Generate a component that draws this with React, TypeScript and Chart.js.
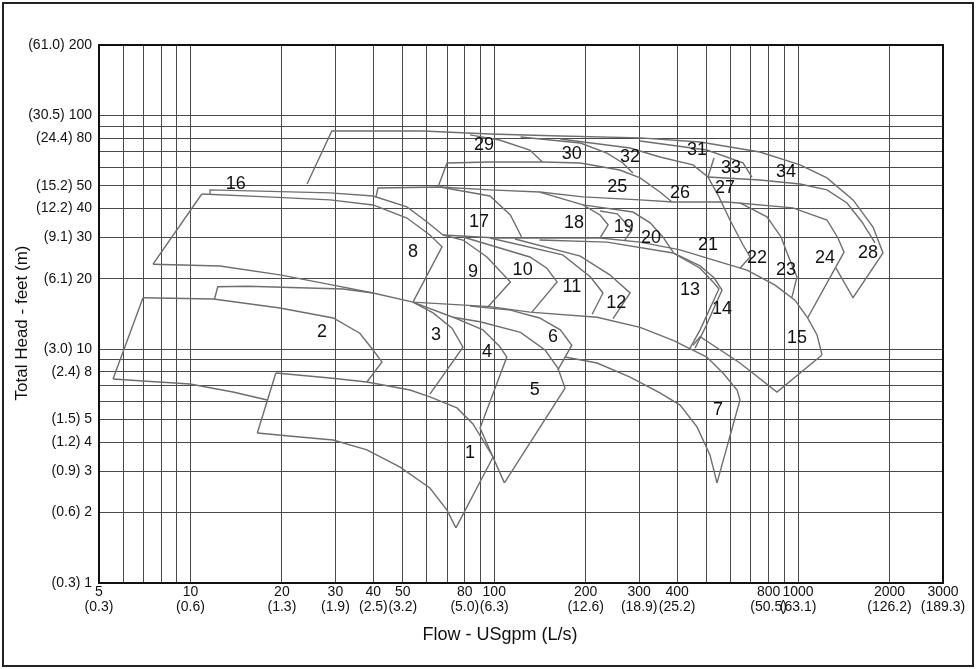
import React, { useEffect, useRef } from 'react';
import { Chart, registerables } from 'chart.js';

Chart.register(...registerables);

type Pt = [number, number];

const FONT = '"Liberation Sans", Arial, Helvetica, sans-serif';

// Axis grid and tick labels
const xGridValues = [5, 6, 7, 8, 9, 10, 20, 30, 40, 50, 60, 70, 80, 90, 100, 200, 300, 400, 500, 600, 700, 800, 900, 1000, 2000, 3000];
const xLabelValues = [5, 10, 20, 30, 40, 50, 80, 100, 200, 300, 400, 800, 1000, 2000, 3000];
const xLabelLs = ['(0.3)', '(0.6)', '(1.3)', '(1.9)', '(2.5)', '(3.2)', '(5.0)', '(6.3)', '(12.6)', '(18.9)', '(25.2)', '(50.5)', '(63.1)', '(126.2)', '(189.3)'];
const yGridValues = [1, 2, 3, 4, 5, 6, 7, 8, 9, 10, 20, 30, 40, 50, 60, 70, 80, 90, 100, 200];
const yLabelValues = [1, 2, 3, 4, 5, 8, 10, 20, 30, 40, 50, 80, 100, 200];
const yLabelM = ['(0.3)', '(0.6)', '(0.9)', '(1.2)', '(1.5)', '(2.4)', '(3.0)', '(6.1)', '(9.1)', '(12.2)', '(15.2)', '(24.4)', '(30.5)', '(61.0)'];

// Pump range boundaries: [flow USgpm, head ft]
const pump2Left: Pt[] = [[6.98, 16.6], [5.56, 7.46]];
const pump2Top: Pt[] = [[6.98, 16.6], [11.9, 16.4], [19.7, 15.0], [29.5, 13.6], [36.1, 11.7], [39.9, 9.92], [42.7, 8.82], [38.1, 7.24]];
const pump2Bottom: Pt[] = [[5.56, 7.46], [6.98, 7.31], [9.97, 7.10], [13.8, 6.56], [17.9, 6.06]];
const pump1Left: Pt[] = [[19.1, 7.91], [16.6, 4.38]];
const pump1Top: Pt[] = [[19.1, 7.91], [28.8, 7.53], [38.1, 7.24], [52.8, 6.69], [61.4, 6.25], [75.4, 5.61], [85.1, 4.79], [99.1, 3.46]];
const pump1Right: Pt[] = [[99.1, 3.46], [74.8, 1.72]];
const pump1Bottom: Pt[] = [[16.6, 4.38], [22.9, 4.21], [29.5, 4.09], [38.1, 3.71], [49.0, 3.13], [61.4, 2.55], [69.9, 2.05], [74.8, 1.72]];
const pump3Edge: Pt[] = [[12.0, 16.4], [12.3, 18.5], [15.4, 18.6], [31.8, 18.1], [39.9, 17.4], [54.0, 15.9], [62.9, 14.3], [72.6, 12.3], [78.9, 10.2], [61.4, 6.43]];
const pump16Left: Pt[] = [[7.53, 23.1], [10.9, 46.1]];
const pump16Bottom: Pt[] = [[7.53, 23.1], [12.5, 22.7], [19.7, 20.8], [29.5, 18.8], [39.9, 17.4]];
const pump4Edge: Pt[] = [[54.0, 15.9], [73.1, 13.7], [91.8, 12.1], [104, 10.3], [110, 9.26], [89.8, 4.6], [108, 2.68]];
const pump5Edge: Pt[] = [[73.1, 13.7], [89.8, 13.1], [122, 11.8], [147, 9.92], [162, 8.31], [171, 6.82], [108, 2.68]];
const pump6Edge: Pt[] = [[83.2, 15.3], [113, 14.7], [141, 13.6], [165, 12.1], [180, 10.4], [162, 8.15]];
const pump7Bottom: Pt[] = [[171, 9.26], [218, 8.73], [280, 7.6], [351, 6.5], [409, 5.77], [465, 4.65], [513, 3.53], [541, 2.68]];
const pump7Top: Pt[] = [[54.0, 15.9], [96.8, 15.2], [131, 14.4], [218, 13.7], [302, 12.4], [388, 10.9], [501, 9.26], [566, 7.91], [630, 6.69], [644, 6.06], [541, 2.68]];
const pump16Top: Pt[] = [[11.6, 46.1], [11.6, 48.0], [28.8, 46.6], [39.9, 45.2], [51.6, 40.6], [60.1, 35.0], [67.8, 30.8]];
const pump8Edge: Pt[] = [[10.9, 46.1], [17.9, 44.8], [28.8, 43.5], [39.9, 41.4], [51.6, 36.4], [61.4, 30.8], [67.3, 27.4], [54.0, 15.9]];
const pump9Edge: Pt[] = [[67.8, 30.8], [78.9, 29.3], [94.6, 24.8], [113, 19.4], [95.4, 15.2]];
const pump10Edge: Pt[] = [[78.9, 30.2], [131, 24.8], [149, 22.2], [161, 19.4], [133, 14.4]];
const pump11Edge: Pt[] = [[96.8, 29.9], [168, 25.3], [207, 20.4], [228, 17.4], [210, 14.1]];
const pump12Edge: Pt[] = [[117, 29.6], [192, 25.0], [240, 20.8], [280, 17.4], [246, 13.5]];
const pump17Top: Pt[] = [[40.8, 44.8], [41.4, 48.9], [66.3, 49.4], [96.8, 45.2], [113, 37.5], [123, 30.2]];
const pump17Base: Pt[] = [[67.8, 30.8], [102, 29.9], [223, 29.9], [302, 28.7], [409, 26.6], [525, 24.1], [679, 21.8], [840, 18.8], [977, 16.2], [1075, 13.6], [1155, 11.5], [1199, 9.45]];
const pump13Edge: Pt[] = [[141, 29.3], [235, 28.7], [388, 25.8], [476, 22.2], [525, 19.4], [549, 18.1], [476, 12.1], [441, 10.1]];
const pump14Edge: Pt[] = [[388, 25.8], [476, 22.7], [529, 20.2], [562, 17.9], [494, 12.3], [458, 10.1]];
const pump15Edge: Pt[] = [[1199, 9.45], [852, 6.56], [644, 8.73], [476, 11.3], [451, 10.4]];
const pump18Edge: Pt[] = [[141, 47.0], [196, 41.4], [223, 37.5], [237, 34.0], [223, 29.9]];
const pump19Edge: Pt[] = [[223, 39.0], [254, 37.9], [284, 32.3], [269, 29.3]];
const pump20Edge: Pt[] = [[196, 41.4], [286, 38.6], [326, 34.7], [359, 30.2], [388, 26.0]];
const pump29Outer: Pt[] = [[24.2, 50.9], [29.2, 85.8], [58.3, 85.8], [96.8, 83.2], [165, 81.6], [302, 80.1], [476, 76.9], [749, 69.7], [1015, 61.4], [1245, 54.0], [1517, 43.5], [1765, 33.3], [1904, 25.8], [1517, 16.6], [1333, 22.2]];
const pump29Right: Pt[] = [[83.2, 82.5], [104, 78.5], [131, 71.1], [144, 63.2]];
const pump25Edge: Pt[] = [[65.3, 49.4], [69.9, 62.6], [96.8, 63.2], [144, 63.2], [192, 62.6], [259, 58.4], [302, 54.0], [351, 47.0], [385, 42.6]];
const pump30Right: Pt[] = [[122, 80.8], [192, 76.2], [235, 69.0], [265, 62.6], [286, 56.7]];
const pump32Right: Pt[] = [[165, 79.3], [280, 72.5], [351, 66.4], [451, 61.4], [505, 54.5], [545, 45.7], [597, 35.7], [659, 27.9], [695, 24.8], [644, 22.2]];
const pump31Right: Pt[] = [[302, 77.7], [501, 71.1], [659, 62.6], [705, 54.5]];
const pump33Left: Pt[] = [[529, 65.7], [505, 54.5]];
const pump34Lower: Pt[] = [[505, 54.5], [749, 52.9], [1015, 50.9], [1245, 48.0], [1449, 42.2], [1623, 35.0], [1792, 28.5]];
const pump24Edge: Pt[] = [[66.3, 49.4], [96.8, 48.0], [141, 47.0], [196, 44.8], [302, 43.5], [388, 42.6], [584, 42.6], [962, 40.2], [1245, 35.7], [1353, 29.9], [1417, 26.0], [1075, 13.6]];
const pump23Edge: Pt[] = [[644, 42.2], [790, 36.8], [879, 30.2], [920, 25.8], [992, 20.4], [955, 16.7]];

// Pump number labels
const pumpIds = ['1', '2', '3', '4', '5', '6', '7', '8', '9', '10', '11', '12', '13', '14', '15', '16', '17', '18', '19', '20', '21', '22', '23', '24', '25', '26', '27', '28', '29', '30', '31', '32', '33', '34'];
const pumpLabelFlow = [83.2, 27.1, 64.3, 94.6, 136, 156, 545, 54.0, 85.1, 124, 180, 252, 441, 562, 992, 14.1, 89.1, 183, 267, 328, 505, 733, 913, 1227, 254, 409, 575, 1699, 92.5, 180, 465, 280, 602, 913];
const pumpLabelHead = [3.6, 11.8, 11.5, 9.73, 6.69, 11.3, 5.5, 26.0, 21.4, 21.8, 18.5, 15.8, 17.9, 14.9, 11.2, 50.9, 35.0, 34.7, 33.3, 29.9, 27.9, 24.5, 21.8, 24.5, 49.4, 46.6, 48.9, 25.8, 74.7, 68.4, 71.1, 66.4, 59.6, 57.3];

const xTitle = 'Flow - USgpm (L/s)';
const yTitle = 'Total Head - feet (m)';

export default function App() {
  const ref = useRef<HTMLCanvasElement>(null);

  useEffect(() => {
    const canvas = ref.current;
    if (!canvas) return;
    const boundaries: Pt[][] = [
      pump2Left, pump2Top, pump2Bottom, pump1Left, pump1Top, pump1Right, pump1Bottom,
      pump3Edge, pump16Left, pump16Bottom, pump4Edge, pump5Edge, pump6Edge, pump7Bottom, pump7Top,
      pump16Top, pump8Edge, pump9Edge, pump10Edge, pump11Edge, pump12Edge, pump17Top, pump17Base,
      pump13Edge, pump14Edge, pump15Edge, pump18Edge, pump19Edge, pump20Edge, pump29Outer, pump29Right,
      pump25Edge, pump30Right, pump32Right, pump31Right, pump33Left, pump34Lower, pump24Edge, pump23Edge,
    ];

    const overlay = {
      id: 'overlay',
      afterDraw(chart: any) {
        const { ctx, chartArea } = chart;
        const xs = chart.scales.x;
        const ys = chart.scales.y;
        ctx.save();
        ctx.fillStyle = '#111';
        ctx.textAlign = 'center';
        ctx.textBaseline = 'middle';
        ctx.font = `18px ${FONT}`;
        pumpIds.forEach((id, i) => {
          ctx.fillText(id, xs.getPixelForValue(pumpLabelFlow[i]), ys.getPixelForValue(pumpLabelHead[i]));
        });
        ctx.strokeStyle = '#111';
        ctx.lineWidth = 2;
        ctx.strokeRect(chartArea.left, chartArea.top, chartArea.right - chartArea.left, chartArea.bottom - chartArea.top);
        ctx.strokeStyle = '#222';
        ctx.strokeRect(3, 3, chart.width - 6, chart.height - 6);
        ctx.font = `18px ${FONT}`;
        ctx.fillText(xTitle, chartArea.left + 401, chartArea.bottom + 52);
        ctx.font = `17px ${FONT}`;
        ctx.translate(22, (chartArea.top + chartArea.bottom) / 2 + 9);
        ctx.rotate(-Math.PI / 2);
        ctx.fillText(yTitle, 0, 0);
        ctx.restore();
      },
    };

    const chart = new Chart(canvas, {
      type: 'scatter',
      data: {
        datasets: boundaries.map((b) => ({
          data: b.map(([x, y]) => ({ x, y })),
          showLine: true,
          borderColor: '#6e6e6e',
          borderWidth: 1.4,
          pointRadius: 0,
          pointHoverRadius: 0,
          fill: false,
          tension: 0,
        })),
      },
      options: {
        responsive: false,
        animation: false,
        events: [],
        layout: { padding: { left: 0, right: 33, top: 45, bottom: 0 } },
        plugins: { legend: { display: false }, tooltip: { enabled: false } },
        scales: {
          x: {
            type: 'logarithmic',
            min: 5,
            max: 3000,
            afterBuildTicks: (s: any) => { s.ticks = xGridValues.map((v) => ({ value: v })); },
            afterFit: (s: any) => { s.height = 86; },
            ticks: {
              autoSkip: false,
              maxRotation: 0,
              minRotation: 0,
              padding: 1,
              color: '#111',
              font: { family: FONT, size: 14, lineHeight: 1.1 },
              callback: (v: any) => {
                const i = xLabelValues.indexOf(Number(v));
                return i < 0 ? '' : [String(xLabelValues[i]), xLabelLs[i]];
              },
            },
            grid: { color: '#4a4a4a', lineWidth: 1, drawTicks: false },
            border: { display: false },
          },
          y: {
            type: 'logarithmic',
            min: 1,
            max: 200,
            afterBuildTicks: (s: any) => { s.ticks = yGridValues.map((v) => ({ value: v })); },
            afterFit: (s: any) => { s.width = 99; },
            ticks: {
              autoSkip: false,
              padding: 7,
              color: '#111',
              font: { family: FONT, size: 14 },
              callback: (v: any) => {
                const i = yLabelValues.indexOf(Number(v));
                return i < 0 ? '' : `${yLabelM[i]} ${yLabelValues[i]}`;
              },
            },
            grid: { color: '#4a4a4a', lineWidth: 1, drawTicks: false },
            border: { display: false },
          },
        },
      },
      plugins: [overlay],
    } as any);

    return () => chart.destroy();
  }, []);

  return (
    <div style={{ position: 'absolute', left: 0, top: 0, width: 976, height: 669, background: '#fff' }}>
      <canvas ref={ref} width={976} height={669} style={{ display: 'block' }} />
    </div>
  );
}
